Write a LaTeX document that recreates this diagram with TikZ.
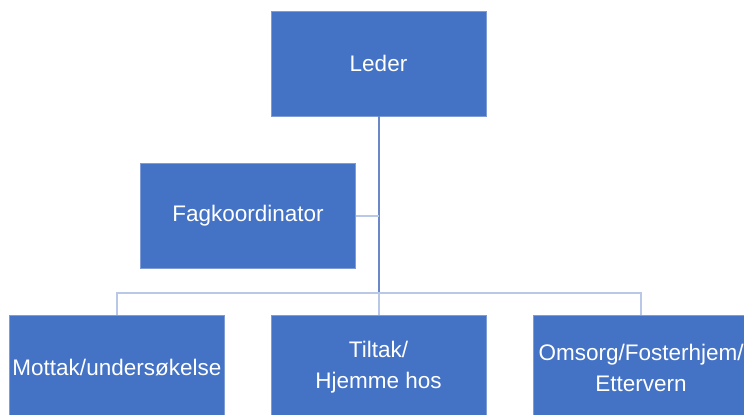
\documentclass[tikz,border=0pt]{standalone}
\usepackage{fontspec}
\setmainfont{Liberation Sans}
\usetikzlibrary{positioning}

\definecolor{boxblue}{HTML}{4472C4}
\definecolor{boxedge}{HTML}{7F9CD6}
\definecolor{mainline}{HTML}{6A88C8}
\definecolor{subline}{HTML}{B8C8E6}

\begin{document}
\begin{tikzpicture}[x=1bp,y=1bp,node distance=46bp,
    unit/.style={rectangle,fill=boxblue,draw=boxedge,line width=0.6bp,
        minimum width=215bp,minimum height=105bp,inner sep=1bp,
        text=white,align=center,font=\fontsize{22.5bp}{31bp}\selectfont},
    trunk/.style={draw=mainline,line width=2bp},
    branch/.style={draw=subline,line width=2bp}]

            \useasboundingbox (-378.5,63.5) rectangle (365.5,-350.5);

            \node[unit] (leder) {Leder};

            \node[unit] (fag) [below=47bp of leder,xshift=-130.5bp] {Fagkoordinator};

            \node[unit] (tiltak) [below=198bp of leder,yshift=-0.5bp] {Tiltak/\\Hjemme hos};

            \node[unit] (mottak) [left=of tiltak] {Mottak/undersøkelse};

            \node[unit] (omsorg) [right=of tiltak,xshift=1bp] {Omsorg/Fosterhjem/\\Ettervern};

            \coordinate[above=22bp of tiltak.north] (bus);

            

            \path[trunk] (leder) -- (bus);

            \path[branch] (fag) -- (fag -| leder)

                          (bus) -- (tiltak)

                          (bus) -| (mottak)

                          (bus) -| (omsorg);

        \end{tikzpicture}
\end{document}
